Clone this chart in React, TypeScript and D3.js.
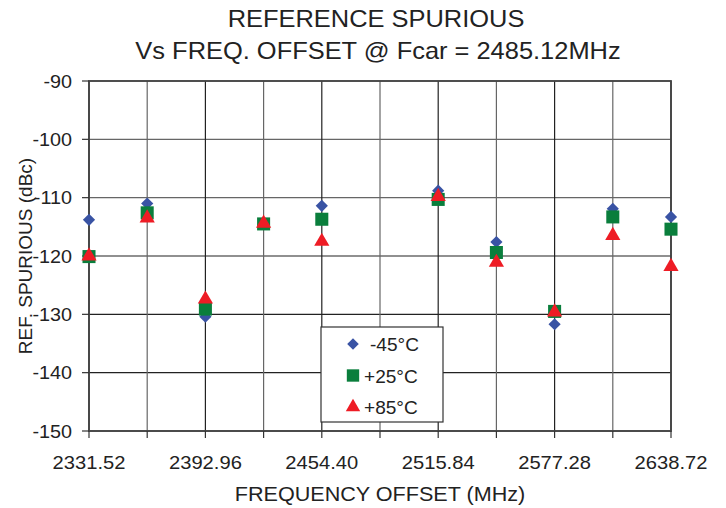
import { useEffect, useRef } from 'react';
import * as d3 from 'd3';

// frequency offsets (MHz) for each measured point; 2485.12 is the carrier, no point there
const freqs = [2331.52, 2362.24, 2392.96, 2423.68, 2454.40, 2515.84, 2546.56, 2577.28, 2608.00, 2638.72];
const minus45 = [-113.8, -111.0, -130.4, -114.5, -111.4, -108.8, -117.6, -131.7, -111.9, -113.3];
const plus25 = [-120.1, -112.6, -129.1, -114.5, -113.7, -110.3, -119.4, -129.5, -113.3, -115.4];
const plus85 = [-120.0, -113.5, -127.4, -114.4, -117.5, -109.8, -121.1, -129.6, -116.5, -121.8];

const xTicks = [2331.52, 2392.96, 2454.40, 2515.84, 2577.28, 2638.72];
const xGrid = d3.range(11).map((i) => 2331.52 + i * 30.72);
const yTicks = [-90, -100, -110, -120, -130, -140, -150];

const series = [
  { name: '-45°C', values: minus45, color: '#3953A4', shape: d3.symbolDiamond2, size: 95 },
  { name: '+25°C', values: plus25, color: '#0A7E3C', shape: d3.symbolSquare, size: 170 },
  { name: '+85°C', values: plus85, color: '#EE1C25', shape: d3.symbolTriangle, size: 100 },
];

export default function App() {
  const svgRef = useRef<SVGSVGElement>(null);

  useEffect(() => {
    if (!svgRef.current) return;
    const svg = d3.select(svgRef.current);
    svg.selectAll('*').remove();

    const font = '"Liberation Sans", Arial, sans-serif';
    const margin = { top: 81, left: 89, right: 55, bottom: 77 };
    const W = 726, H = 508;
    const w = W - margin.left - margin.right;
    const h = H - margin.top - margin.bottom;

    const x = d3.scaleLinear().domain([2331.52, 2638.72]).range([0, w]);
    const y = d3.scaleLinear().domain([-150, -90]).range([h, 0]);

    const g = svg.append('g').attr('transform', `translate(${margin.left},${margin.top})`);

    // the original text is a little wider than Arial, stretch horizontally
    const label = (parent: any, tx: number, ty: number, size: number, sx: number, anchor: string, txt: string) =>
      parent.append('text')
        .attr('transform', `translate(${tx},${ty}) scale(${sx},1)`)
        .attr('text-anchor', anchor)
        .attr('font-family', font)
        .attr('font-size', `${size}px`)
        .attr('fill', '#222')
        .text(txt);

    // horizontal grid
    g.selectAll('.hgrid')
      .data(yTicks)
      .enter()
      .append('line')
      .attr('x1', 0)
      .attr('x2', w)
      .attr('y1', (d) => y(d))
      .attr('y2', (d) => y(d))
      .attr('stroke', (d, i) => (i < 3 ? '#666' : '#222'))
      .attr('stroke-width', 1.2);

    // vertical grid
    g.selectAll('.vgrid')
      .data(xGrid)
      .enter()
      .append('line')
      .attr('x1', (d) => x(d))
      .attr('x2', (d) => x(d))
      .attr('y1', 0)
      .attr('y2', h)
      .attr('stroke', (d, i) => (i % 2 === 0 ? '#222' : '#666'))
      .attr('stroke-width', 1.2);

    // frame
    g.append('rect')
      .attr('x', 0)
      .attr('y', 0)
      .attr('width', w)
      .attr('height', h)
      .attr('fill', 'none')
      .attr('stroke', '#444')
      .attr('stroke-width', 1.8);

    // ticks
    g.selectAll('.xtick')
      .data(xGrid)
      .enter()
      .append('line')
      .attr('x1', (d) => x(d))
      .attr('x2', (d) => x(d))
      .attr('y1', h)
      .attr('y2', h + 7)
      .attr('stroke', '#333')
      .attr('stroke-width', 1.2);

    g.selectAll('.ytick')
      .data(yTicks)
      .enter()
      .append('line')
      .attr('x1', -7)
      .attr('x2', 0)
      .attr('y1', (d) => y(d))
      .attr('y2', (d) => y(d))
      .attr('stroke', '#333')
      .attr('stroke-width', 1.2);

    xTicks.forEach((d) => label(g, x(d), h + 38, 18, 1.12, 'middle', d.toFixed(2)));
    yTicks.forEach((d) => label(g, -17, y(d) + 6.5, 18, 1.1, 'end', String(d)));

    // points
    series.forEach((s) => {
      const sym = d3.symbol().type(s.shape).size(s.size);
      g.selectAll(null)
        .data(s.values)
        .enter()
        .append('path')
        .attr('d', sym() as string)
        .attr('transform', (d, i) => `translate(${x(freqs[i])},${y(d)})`)
        .attr('fill', s.color);
    });

    // legend
    const lg = svg.append('g').attr('transform', 'translate(321,327)');
    lg.append('rect')
      .attr('width', 122)
      .attr('height', 95)
      .attr('fill', '#fff')
      .attr('stroke', '#333')
      .attr('stroke-width', 1.2);
    series.forEach((s, i) => {
      const sym = d3.symbol().type(s.shape).size(s.size * 0.9);
      const cy = 17 + i * 31.5;
      lg.append('path')
        .attr('d', sym() as string)
        .attr('transform', `translate(32,${cy})`)
        .attr('fill', s.color);
      label(lg, s.name.startsWith('-') ? 49 : 43, cy + 7, 18, 1.06, 'start', s.name);
    });

    // titles
    label(svg, 376, 27, 24, 1.06, 'middle', 'REFERENCE SPURIOUS');
    label(svg, 378, 59, 24, 1.06, 'middle', 'Vs FREQ. OFFSET @ Fcar = 2485.12MHz');
    label(svg, 380, 501, 20, 1.08, 'middle', 'FREQUENCY OFFSET (MHz)');

    svg.append('text')
      .attr('transform', 'translate(32,256) rotate(-90)')
      .attr('text-anchor', 'middle')
      .attr('font-family', font)
      .attr('font-size', '19px')
      .attr('fill', '#222')
      .text('REF. SPURIOUS (dBc)');
  }, []);

  return (
    <svg
      ref={svgRef}
      width={726}
      height={508}
      style={{ position: 'absolute', left: 0, top: 0, display: 'block', background: '#fff' }}
    />
  );
}
